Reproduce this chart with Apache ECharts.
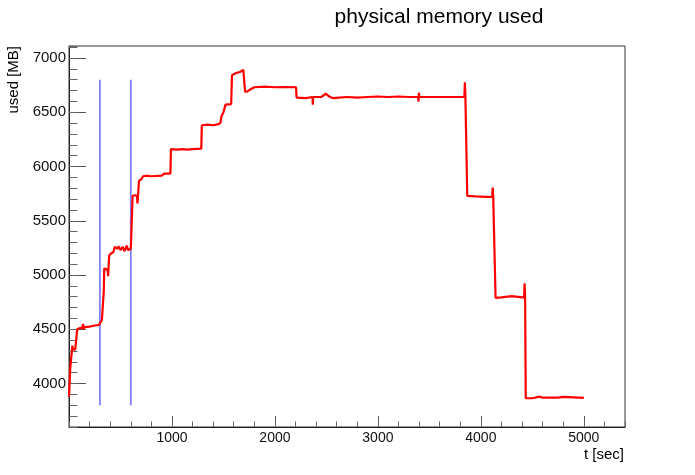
<!DOCTYPE html>
<html>
<head>
<meta charset="utf-8">
<script src="https://cdn.jsdelivr.net/npm/echarts@6/dist/echarts.min.js"></script>
<style>
html,body{margin:0;padding:0;background:#fff;}
#c{width:695px;height:475px;}
</style>
</head>
<body>
<div id="c"></div>
<script>
// ---- data ----
const timeSec = [0,3,8,12,30,33,38,60,75,80,100,130,137,140,150,200,250,290,300,310,320,330,338,342,375,380,385,390,410,430,445,470,480,500,520,540,560,575,590,600,603,610,618,640,660,665,675,680,700,720,750,800,900,925,985,990,1000,1050,1100,1150,1200,1285,1290,1350,1400,1450,1470,1480,1500,1520,1575,1583,1620,1660,1693,1700,1710,1730,1760,1800,1900,2000,2100,2205,2210,2300,2365,2368,2372,2450,2495,2520,2560,2700,2800,2900,3000,3100,3200,3300,3390,3395,3398,3402,3500,3700,3840,3845,3850,3860,3868,3950,4050,4110,4115,4120,4138,4143,4200,4300,4400,4420,4425,4430,4436,4500,4570,4600,4750,4800,5000];
const usedMB = [3880,3940,3930,4140,4150,4350,4320,4310,4320,4500,4510,4515,4550,4500,4520,4525,4535,4540,4545,4570,4590,4740,4850,5060,5050,4990,4980,5180,5200,5210,5260,5240,5265,5230,5260,5220,5270,5230,5225,5240,5310,5510,5730,5735,5730,5660,5670,5870,5880,5910,5915,5910,5915,5935,5935,6160,6170,6155,6160,6155,6160,6165,6380,6385,6380,6390,6400,6460,6500,6570,6575,6840,6860,6870,6890,6890,6690,6690,6710,6730,6735,6730,6732,6730,6635,6630,6640,6570,6640,6640,6670,6650,6630,6640,6635,6640,6645,6640,6645,6640,6640,6600,6680,6640,6640,6640,6640,6775,6640,6640,5730,5725,5720,5720,5805,5720,5720,4790,4795,4805,4795,4795,4925,4795,3866,3865,3880,3870,3870,3878,3868];
const markerTimes = [300, 600];
const markerRange = [3800, 6800];
const xMajorTicks = [1000, 2000, 3000, 4000, 5000];
const yMajorTicks = [4000, 4500, 5000, 5500, 6000, 6500, 7000];
const xRange = [0, 5400];
const yRange = [3600, 7110];
const titleText = 'physical memory used';
const xTitle = 't [sec]';
const yTitle = 'used [MB]';

// ---- chart ----
const FONT = '"Liberation Sans", Arial, Helvetica, sans-serif';
const chart = echarts.init(document.getElementById('c'), null, {renderer: 'canvas'});
const redData = timeSec.map((t, i) => [t, usedMB[i]]);
const markerSeries = markerTimes.map(t => ({
  type: 'line', xAxisIndex: 0, yAxisIndex: 0, symbol: 'none', silent: true, z: 2,
  lineStyle: {color: '#8080ff', width: 1.8},
  data: [[t, markerRange[0]], [t, markerRange[1]]]
}));
const plain = v => String(v);

const option = {
  animation: false,
  backgroundColor: '#ffffff',
  grid: {left: 69, right: 70, top: 46, bottom: 48, show: true, borderColor: '#333', borderWidth: 1, backgroundColor: 'transparent'},
  xAxis: [
    {
      type: 'value', min: xRange[0], max: xRange[1], position: 'bottom',
      axisLine: {show: true, onZero: false, lineStyle: {color: '#222', width: 1}},
      axisTick: {show: true, inside: true, length: 11, customValues: xMajorTicks, lineStyle: {color: '#555', width: 1}},
      axisLabel: {show: true, customValues: xMajorTicks, formatter: plain, margin: 4, color: '#111', fontSize: 14, fontFamily: FONT},
      splitLine: {show: false}
    },
    {
      type: 'value', min: xRange[0], max: xRange[1], interval: 200, position: 'bottom',
      axisLine: {show: false, onZero: false},
      axisTick: {show: true, inside: true, length: 5.5, lineStyle: {color: '#666', width: 1}},
      axisLabel: {show: false},
      splitLine: {show: false}
    }
  ],
  yAxis: [
    {
      type: 'value', min: yRange[0], max: yRange[1], position: 'left',
      axisLine: {show: true, onZero: false, lineStyle: {color: '#222', width: 1}},
      axisTick: {show: true, inside: true, length: 17, customValues: yMajorTicks, lineStyle: {color: '#555', width: 1}},
      axisLabel: {show: true, customValues: yMajorTicks, formatter: plain, margin: 3, color: '#111', fontSize: 15, fontFamily: FONT},
      splitLine: {show: false}
    },
    {
      type: 'value', min: yRange[0], max: yRange[1], interval: 100, position: 'left',
      axisLine: {show: false, onZero: false},
      axisTick: {show: true, inside: true, length: 8.5, lineStyle: {color: '#666', width: 1}},
      axisLabel: {show: false},
      splitLine: {show: false}
    }
  ],
  series: markerSeries.concat([{
    type: 'line', xAxisIndex: 0, yAxisIndex: 0, symbol: 'none', silent: true, z: 3,
    lineStyle: {color: '#ff0000', width: 2.2}, data: redData
  }]),
  graphic: [
    {type: 'text', x: 439, y: 17, style: {text: titleText, font: '21px ' + FONT, fill: '#000', textAlign: 'center', textVerticalAlign: 'middle'}},
    {type: 'text', x: 624, y: 455, style: {text: xTitle, font: '15px ' + FONT, fill: '#000', textAlign: 'right', textVerticalAlign: 'middle'}},
    {type: 'text', x: 14, y: 46, rotation: Math.PI / 2, style: {text: yTitle, font: '15px ' + FONT, fill: '#000', textAlign: 'right', textVerticalAlign: 'middle'}}
  ]
};
chart.setOption(option);
</script>
</body>
</html>
